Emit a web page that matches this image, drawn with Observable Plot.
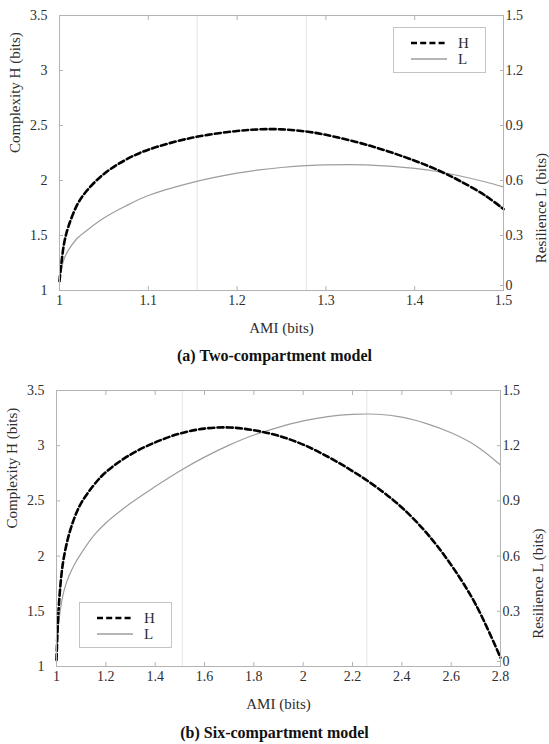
<!DOCTYPE html>
<html>
<head>
<meta charset="utf-8">
<script src="https://cdn.jsdelivr.net/npm/d3@7"></script>
<script src="https://cdn.jsdelivr.net/npm/@observablehq/plot@0.6"></script>
<style>
  html, body { margin: 0; padding: 0; background: #fff; }
  #page { position: relative; width: 549px; height: 744px; }
  #page, #page svg, #page svg text { font-family: "Liberation Serif", "Times New Roman", serif !important; }
  .panel { position: absolute; left: 0; overflow: visible; }
  .caption { position: absolute; left: 0; width: 549px; text-align: center; font-weight: bold; font-size: 16px; line-height: 16px; color: #111; }
  .legend { position: absolute; border: 1px solid #c4c4c4; background: #fff; box-sizing: border-box; }
  .legend svg { display: block; }
</style>
</head>
<body>
<div id="page"></div>
<script>
// (a) Two-compartment model: complexity H and resilience L against AMI
const amiA = [1.0, 1.005, 1.01, 1.02, 1.03, 1.05, 1.075, 1.1, 1.15, 1.2, 1.225, 1.25, 1.278, 1.3, 1.35, 1.4, 1.43, 1.45, 1.48, 1.5];
const hA   = [1.085, 1.42, 1.58, 1.78, 1.90, 2.06, 2.19, 2.28, 2.39, 2.45, 2.465, 2.465, 2.445, 2.415, 2.315, 2.18, 2.08, 2.00, 1.86, 1.74];
const lA   = [0.06, 0.17, 0.22, 0.285, 0.325, 0.395, 0.462, 0.518, 0.59, 0.64, 0.658, 0.671, 0.681, 0.685, 0.684, 0.666, 0.645, 0.626, 0.592, 0.565];
const refA = [1.155, 1.278];
const xTicksA = [1, 1.1, 1.2, 1.3, 1.4, 1.5];

// (b) Six-compartment model
const amiB = [1.0, 1.005, 1.01, 1.02, 1.03, 1.05, 1.075, 1.1, 1.15, 1.2, 1.3, 1.4, 1.5, 1.6, 1.7, 1.8, 1.9, 2.0, 2.1, 2.2, 2.3, 2.4, 2.5, 2.6, 2.7, 2.8];
const hB   = [1.06, 1.36, 1.57, 1.83, 1.99, 2.19, 2.36, 2.48, 2.64, 2.76, 2.92, 3.03, 3.11, 3.155, 3.165, 3.14, 3.09, 3.01, 2.90, 2.77, 2.62, 2.44, 2.21, 1.92, 1.56, 1.08];
const lB   = [0.05, 0.18, 0.25, 0.345, 0.41, 0.49, 0.56, 0.615, 0.71, 0.78, 0.887, 0.978, 1.063, 1.138, 1.203, 1.258, 1.30, 1.335, 1.358, 1.37, 1.371, 1.355, 1.32, 1.27, 1.2, 1.095];
const refB = [1.51, 2.258];
const xTicksB = [1, 1.2, 1.4, 1.6, 1.8, 2, 2.2, 2.4, 2.6, 2.8];

// shared axes
const hTicks = [1, 1.5, 2, 2.5, 3, 3.5];
const lTicks = [0, 0.3, 0.6, 0.9, 1.2, 1.5];
const hDomain = [1, 3.5];
const lDomain = [0, 1.5];

const AXIS = "#b3b3b3";
const INK = "#2e2e2e";
const FONT = "Liberation Serif";

// the resilience axis shares the plot's y scale: map L onto the H range
const lToH = v => hDomain[0] + (v - lDomain[0]) * (hDomain[1] - hDomain[0]) / (lDomain[1] - lDomain[0]);
const key = v => v.toFixed(4);
const lLabel = new Map(lTicks.map(t => [key(lToH(t)), String(t)]));

function panel({ami, h, l, refs, xTicks, xDomain, marginTop, marginLeft, marginRight, height, marginBottom}) {
  const rows = ami.map((a, i) => ({ami: a, H: h[i], L: l[i]}));
  const rightTicks = lTicks.map(lToH);
  return Plot.plot({
    width: 549,
    height,
    marginTop, marginLeft, marginRight, marginBottom,
    style: {fontFamily: FONT, fontSize: "14px", color: INK, background: "transparent", overflow: "visible"},
    x: {domain: xDomain, label: null},
    y: {domain: hDomain, label: null},
    marks: [
      Plot.ruleX(refs, {stroke: "#e4e4e4", strokeWidth: 1}),
      Plot.line(rows, {x: "ami", y: d => lToH(d.L), stroke: "#9d9d9d", strokeWidth: 1.2, curve: "catmull-rom"}),
      Plot.line(rows, {x: "ami", y: "H", stroke: "#000", strokeWidth: 2.6, strokeDasharray: "6,3.2", curve: "catmull-rom"}),
      Plot.frame({stroke: AXIS, strokeWidth: 1}),
      Plot.axisX(xTicks, {anchor: "bottom", tickSize: -4, tickPadding: 9, stroke: AXIS, fill: INK, tickFormat: d => String(d), label: null}),
      Plot.axisX(xTicks, {anchor: "top", tickSize: -4, stroke: AXIS, tickFormat: () => "", label: null}),
      Plot.axisY(hTicks, {anchor: "left", tickSize: -4, tickPadding: 16, stroke: AXIS, fill: INK, tickFormat: d => String(d), label: null}),
      // right axis: the zero label sits a little higher, clear of the last x label
      Plot.axisY(rightTicks.slice(1), {anchor: "right", tickSize: -4, tickPadding: 6, stroke: AXIS, fill: INK, tickFormat: d => lLabel.get(key(d)), label: null}),
      Plot.axisY(rightTicks.slice(0, 1), {anchor: "right", tickSize: -4, tickPadding: 6, dy: -5, stroke: AXIS, fill: INK, tickFormat: d => lLabel.get(key(d)), label: null}),
      Plot.text(["AMI (bits)"], {frameAnchor: "bottom", dy: 42, fontSize: 15, fill: INK}),
      Plot.text(["Complexity H (bits)"], {frameAnchor: "left", dx: -44, rotate: -90, fontSize: 15, fill: INK}),
      Plot.text(["Resilience L (bits)"], {frameAnchor: "right", dx: 38, rotate: -90, fontSize: 15, fill: INK})
    ]
  });
}

function legend({left, top}) {
  const box = document.createElement("div");
  box.className = "legend";
  Object.assign(box.style, {left: left + "px", top: top + "px", width: "93px", height: "46px"});
  box.innerHTML = `
    <svg width="91" height="44" font-size="15" fill="${INK}">
      <line x1="17" x2="53" y1="15" y2="15" stroke="#000" stroke-width="2.6" stroke-dasharray="6,3.2"/>
      <line x1="17" x2="53" y1="31" y2="31" stroke="#9d9d9d" stroke-width="1.4"/>
      <text x="64" y="15" dy="0.35em">H</text>
      <text x="64" y="31" dy="0.35em">L</text>
    </svg>`;
  return box;
}

function caption(text, top) {
  const c = document.createElement("div");
  c.className = "caption";
  c.style.top = top + "px";
  c.textContent = text;
  return c;
}

const page = document.getElementById("page");

const a = panel({ami: amiA, h: hA, l: lA, refs: refA, xTicks: xTicksA, xDomain: [1, 1.5],
  height: 345, marginTop: 15, marginBottom: 55, marginLeft: 59, marginRight: 46});
a.classList.add("panel");
a.style.top = "0px";
page.appendChild(a);
page.appendChild(legend({left: 393, top: 27}));
page.appendChild(caption("(a) Two-compartment model", 348));

const b = panel({ami: amiB, h: hB, l: lB, refs: refB, xTicks: xTicksB, xDomain: [1, 2.8],
  height: 345, marginTop: 18, marginBottom: 51, marginLeft: 56, marginRight: 49});
b.classList.add("panel");
b.style.top = "372px";
page.appendChild(b);
page.appendChild(legend({left: 79, top: 602}));
page.appendChild(caption("(b) Six-compartment model", 725));
</script>
</body>
</html>
